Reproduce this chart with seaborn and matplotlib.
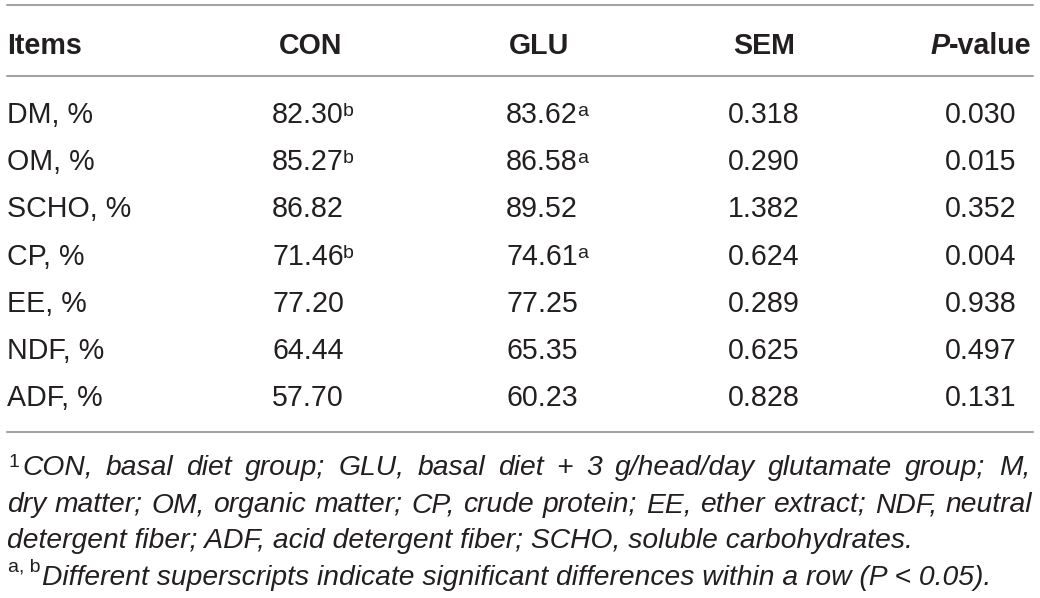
import matplotlib
matplotlib.use("Agg")
import matplotlib.pyplot as plt
import seaborn as sns
import pandas as pd

# table content
headers = ["Items", "CON", "GLU", "SEM", "P-value"]
items = ["DM, %", "OM, %", "SCHO, %", "CP, %", "EE, %", "NDF, %", "ADF, %"]
con = ["82.30", "85.27", "86.82", "71.46", "77.20", "64.44", "57.70"]
con_sup = ["b", "b", "", "b", "", "", ""]
glu = ["83.62", "86.58", "89.52", "74.61", "77.25", "65.35", "60.23"]
glu_sup = ["a", "a", "", "a", "", "", ""]
sem = ["0.318", "0.290", "1.382", "0.624", "0.289", "0.625", "0.828"]
p_value = ["0.030", "0.015", "0.352", "0.004", "0.938", "0.497", "0.131"]

footnote_lines = [
    "CON, basal diet group; GLU, basal diet + 3 g/head/day glutamate group; M,",
    "dry matter; OM, organic matter; CP, crude protein; EE, ether extract; NDF, neutral",
    "detergent fiber; ADF, acid detergent fiber; SCHO, soluble carbohydrates.",
    "Different superscripts indicate significant differences within a row (P < 0.05).",
]

df = pd.DataFrame({"item": items, "con": con, "con_sup": con_sup, "glu": glu,
                   "glu_sup": glu_sup, "sem": sem, "p": p_value})

sns.set_theme(style="white")
plt.rcParams['font.family'] = ['Liberation Sans', 'DejaVu Sans']

TXT = "#231f20"
RULE = "#a3a3a3"
FS = 20.6
SUP_FS = 14
FOOT_FS = 20.3

fig = plt.figure(figsize=(10.4, 5.98), dpi=100)
ax = fig.add_axes([0, 0, 1, 1])
ax.set_xlim(0, 1040)
ax.set_ylim(598, 0)
ax.axis("off")
r = fig.canvas.get_renderer()


def width(t):
    return t.get_window_extent(r).width


# rules
for y in [5, 76, 432]:
    ax.axhline(y, xmin=7 / 1040, xmax=1033 / 1040, color=RULE, lw=1.5)

# header
hy = 54
ax.text(7, hy, headers[0], fontsize=FS, fontweight="bold", color=TXT, va="baseline")
for h, cx in zip(headers[1:4], [311, 539, 764]):
    ax.text(cx, hy, h, fontsize=FS, fontweight="bold", color=TXT, va="baseline", ha="center")
p1 = ax.text(0, hy, "P", fontsize=FS, fontweight="bold", style="italic", color=TXT, va="baseline")
p2 = ax.text(0, hy, "-value", fontsize=FS, fontweight="bold", color=TXT, va="baseline")
w1, w2 = width(p1), width(p2)
p1.set_x(981 - (w1 + w2) / 2)
p2.set_x(981 - (w1 + w2) / 2 + w1)

# body rows
col_x = {"con": 308, "glu": 542, "sem": 764, "p": 981}
for i, row in df.iterrows():
    y = 123 + i * 47.2
    ax.text(7, y, row["item"], fontsize=FS, color=TXT, va="baseline")
    for key in ["con", "glu"]:
        t = ax.text(col_x[key], y, row[key], fontsize=FS, color=TXT, va="baseline", ha="center")
        if row[key + "_sup"]:
            ax.text(col_x[key] + width(t) / 2 - 1, y - 7, row[key + "_sup"],
                    fontsize=SUP_FS, color=TXT, va="baseline")
    for key in ["sem", "p"]:
        ax.text(col_x[key], y, row[key], fontsize=FS, color=TXT, va="baseline", ha="center")


def justify(line, x0, x1, y):
    words = line.split(" ")
    objs = [ax.text(0, y, w, fontsize=FOOT_FS, style="italic", color=TXT, va="baseline")
            for w in words]
    ws = [width(o) for o in objs]
    gap = (x1 - x0 - sum(ws)) / (len(words) - 1)
    x = x0
    for o, w in zip(objs, ws):
        o.set_x(x)
        x += w + gap


# footnotes
ax.text(9, 467, "1", fontsize=SUP_FS, color=TXT, va="baseline")
justify(footnote_lines[0], 22, 1030, 475)
justify(footnote_lines[1], 7, 1032, 512)
ax.text(7, 548, footnote_lines[2], fontsize=FOOT_FS, style="italic", color=TXT, va="baseline")
ab = ax.text(8, 572, "a, b", fontsize=SUP_FS, color=TXT, va="baseline")
ax.text(8 + width(ab) + 2, 585, footnote_lines[3], fontsize=FOOT_FS, style="italic",
        color=TXT, va="baseline")

plt.savefig("out.png", dpi=100)
